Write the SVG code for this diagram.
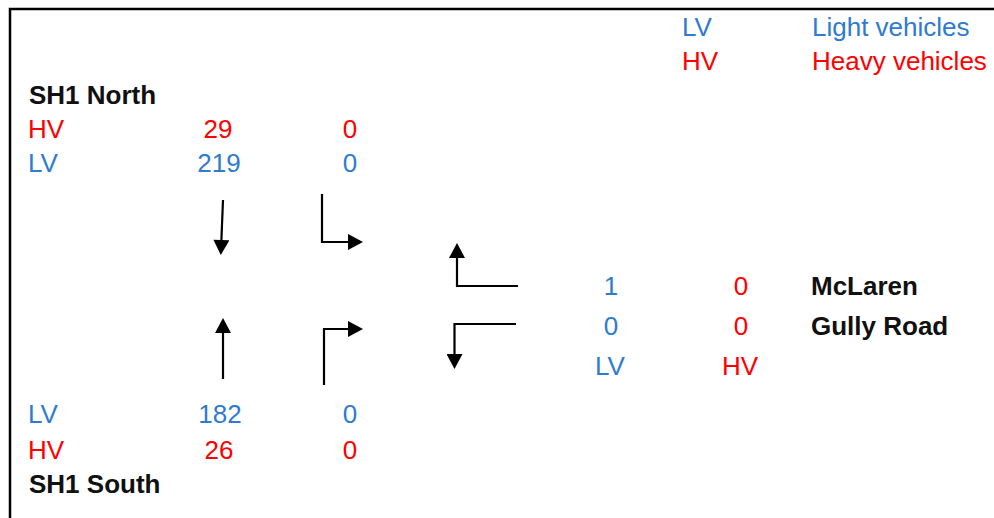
<svg xmlns="http://www.w3.org/2000/svg" width="994" height="518" viewBox="0 0 994 518">
<style>
text{font-family:"Liberation Sans",Arial,sans-serif;font-size:26px}
.b{fill:#2e7bcf}
.r{fill:#ff0000}
.k{fill:#111;font-weight:bold}
.m{text-anchor:middle}
.a{fill:none;stroke:#000;stroke-width:2.2;marker-end:url(#ah)}
</style>
<defs>
<marker id="ah" markerUnits="userSpaceOnUse" markerWidth="16" markerHeight="16" viewBox="0 0 15 16" refX="5" refY="8" orient="auto">
<path d="M0,0 L15,8 L0,16 z" fill="#000"/>
</marker>
</defs>
<rect width="994" height="518" fill="#fff"/>
<path d="M10,518 V9 H994" fill="none" stroke="#000" stroke-width="2.5"/>
<g id="legend">
<text x="682" y="36" class="b">LV</text>
<text x="812" y="36" class="b">Light vehicles</text>
<text x="682" y="70" class="r">HV</text>
<text x="812" y="70" class="r">Heavy vehicles</text>
</g>
<g id="sh1-north">
<text x="29" y="104" class="k">SH1 North</text>
<text x="28" y="138" class="r">HV</text>
<text x="218" y="138" class="r m">29</text>
<text x="350" y="138" class="r m">0</text>
<text x="28" y="172" class="b">LV</text>
<text x="219" y="172" class="b m">219</text>
<text x="350" y="172" class="b m">0</text>
</g>
<g id="sh1-south">
<text x="28" y="423" class="b">LV</text>
<text x="220" y="423" class="b m">182</text>
<text x="350" y="423" class="b m">0</text>
<text x="28" y="459" class="r">HV</text>
<text x="219" y="459" class="r m">26</text>
<text x="350" y="459" class="r m">0</text>
<text x="29" y="493" class="k">SH1 South</text>
</g>
<g id="mclaren-gully">
<text x="611" y="295" class="b m">1</text>
<text x="741" y="295" class="r m">0</text>
<text x="811" y="295" class="k">McLaren</text>
<text x="611" y="335" class="b m">0</text>
<text x="741" y="335" class="r m">0</text>
<text x="811" y="335" class="k">Gully Road</text>
<text x="610" y="375" class="b m">LV</text>
<text x="740" y="375" class="r m">HV</text>
</g>
<g id="connectors">
<path class="a" d="M223,200 L221.2,245"/>
<path class="a" d="M322,194 V242 H353"/>
<path class="a" d="M518,286 H457 V253"/>
<path class="a" d="M223,379 V328"/>
<path class="a" d="M324,385 V329 H353"/>
<path class="a" d="M516,324 H454.5 V359"/>
</g>
</svg>
